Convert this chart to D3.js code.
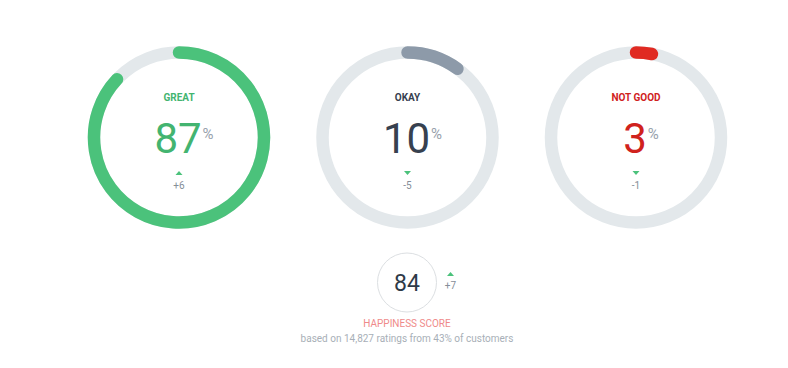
<!DOCTYPE html>
<html><head><meta charset="utf-8">
<script src="https://cdnjs.cloudflare.com/ajax/libs/d3/7.8.5/d3.min.js"></script>
<style>
html,body{margin:0;padding:0;background:#fff;}
svg{display:block;font-family:Roboto,"Noto Sans",sans-serif;}
</style></head>
<body>
<svg id="chart" width="788" height="368"></svg>
<script>
const categories = ["GREAT", "OKAY", "NOT GOOD"];
const percentages = [87, 10, 3];
const deltas = ["+6", "-5", "-1"];
const deltaUp = [true, false, false];
const arcColors = ["#4bc27b", "#8d9aa9", "#e02a22"];
const textColors = ["#43b470", "#37414f", "#d0221d"];
const score = 84;
const scoreDelta = "+7";
const scoreTitle = "HAPPINESS SCORE";
const scoreNote = "based on 14,827 ratings from 43% of customers";

const svg = d3.select("#chart");
const x = d3.scalePoint().domain(categories).range([179, 636]);
const angle = d3.scaleLinear().domain([0, 100]).range([0, 2 * Math.PI]);
const r = 85, sw = 12.5, cy = 137.5;

categories.forEach((c, i) => {
  const g = svg.append("g").attr("transform", `translate(${x(c)},${cy})`);
  g.append("circle").attr("r", r).attr("fill", "none")
    .attr("stroke", "#e3e8eb").attr("stroke-width", sw);
  const p = d3.path();
  p.arc(0, 0, r, -Math.PI / 2, -Math.PI / 2 + angle(percentages[i]));
  g.append("path").attr("d", p.toString()).attr("fill", "none")
    .attr("stroke", arcColors[i]).attr("stroke-width", sw)
    .attr("stroke-linecap", "round");
  g.append("text").attr("y", -37).attr("text-anchor", "middle")
    .attr("font-size", 10).attr("font-weight", 700)
    .attr("fill", textColors[i]).text(c);
  const t = g.append("text").attr("x", 5).attr("y", 15).attr("text-anchor", "middle")
    .attr("fill", textColors[i]);
  t.append("tspan").attr("font-size", 42).attr("font-weight", 400).text(percentages[i]);
  t.append("tspan").attr("font-size", 15).attr("font-weight", 400)
    .attr("fill", "#97a1ac").attr("dx", 1).attr("dy", -14).text("%");
  const ty = 35.5;
  const tri = deltaUp[i]
    ? `M-3.5,${ty + 2}L3.5,${ty + 2}L0,${ty - 2}Z`
    : `M-3.5,${ty - 2}L3.5,${ty - 2}L0,${ty + 2}Z`;
  g.append("path").attr("d", tri).attr("fill", "#4bc27b");
  g.append("text").attr("y", 51).attr("text-anchor", "middle")
    .attr("font-size", 10).attr("fill", "#858e98").text(deltas[i]);
});

const sg = svg.append("g").attr("transform", "translate(407,282.5)");
sg.append("circle").attr("r", 29.5).attr("fill", "none")
  .attr("stroke", "#dcdfe2").attr("stroke-width", 1);
sg.append("text").attr("y", 8.3).attr("text-anchor", "middle")
  .attr("font-size", 23).attr("fill", "#2f3a48").text(score);
sg.append("path").attr("d", "M40,-6.5L47,-6.5L43.5,-10.5Z").attr("fill", "#4bc27b");
sg.append("text").attr("x", 43.5).attr("y", 6).attr("text-anchor", "middle")
  .attr("font-size", 10).attr("fill", "#858e98").text(scoreDelta);

svg.append("text").attr("x", 407).attr("y", 327).attr("text-anchor", "middle")
  .attr("font-size", 10).attr("fill", "#ef8a8a").text(scoreTitle);
svg.append("text").attr("x", 407).attr("y", 341.5).attr("text-anchor", "middle")
  .attr("font-size", 10).attr("fill", "#a8afb7").text(scoreNote);
</script>
</body></html>
